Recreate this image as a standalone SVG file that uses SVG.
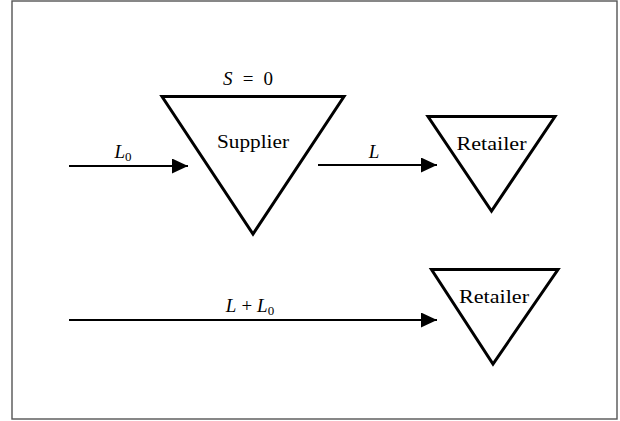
<svg xmlns="http://www.w3.org/2000/svg" width="620" height="421" viewBox="0 0 620 421">
<style>
.frame{fill:#fff;stroke:#555;stroke-width:1.4}
.node{fill:#fff;stroke:#000;stroke-width:3;stroke-linejoin:miter}
.edge{stroke:#000;stroke-width:2;fill:none}
.t{font-family:"Liberation Serif","DejaVu Serif",serif;font-size:19px;fill:#000;text-anchor:middle}
.m{font-style:italic}
</style>
<defs>
<marker id="ah" viewBox="0 0 16 15" refX="16" refY="7.5" markerWidth="16" markerHeight="15" markerUnits="userSpaceOnUse" orient="auto">
<path d="M0,0 L16,7.5 L0,15 Z" fill="#000"/>
</marker>
</defs>
<rect class="frame" x="12" y="1" width="605" height="418"/>
<g id="supplier">
<path class="node" d="M162,96.5 L344,96.5 L253,234 Z"/>
<text class="t" x="253" y="148" textLength="72" lengthAdjust="spacingAndGlyphs">Supplier</text>
<text class="t" x="248" y="85" textLength="50"><tspan class="m">S</tspan> = 0</text>
</g>
<g id="retailer1">
<path class="node" d="M428,116.5 L555,116.5 L491.5,211 Z"/>
<text class="t" x="491.5" y="150" textLength="70" lengthAdjust="spacingAndGlyphs">Retailer</text>
</g>
<g id="retailer2">
<path class="node" d="M431.5,269.5 L558,269.5 L493,364 Z"/>
<text class="t" x="494" y="303" textLength="70" lengthAdjust="spacingAndGlyphs">Retailer</text>
</g>
<g id="connectors">
<line class="edge" x1="69" y1="166" x2="188" y2="166" marker-end="url(#ah)"/>
<text class="t" x="123" y="158"><tspan class="m">L</tspan><tspan font-size="13" dy="3">0</tspan></text>
<line class="edge" x1="318" y1="165" x2="437" y2="165" marker-end="url(#ah)"/>
<text class="t m" x="374" y="158">L</text>
<line class="edge" x1="69" y1="320" x2="437" y2="320" marker-end="url(#ah)"/>
<text class="t" x="250" y="312"><tspan class="m">L</tspan><tspan dx="5">+</tspan><tspan class="m" dx="5">L</tspan><tspan font-size="13" dy="3">0</tspan></text>
</g>
</svg>
